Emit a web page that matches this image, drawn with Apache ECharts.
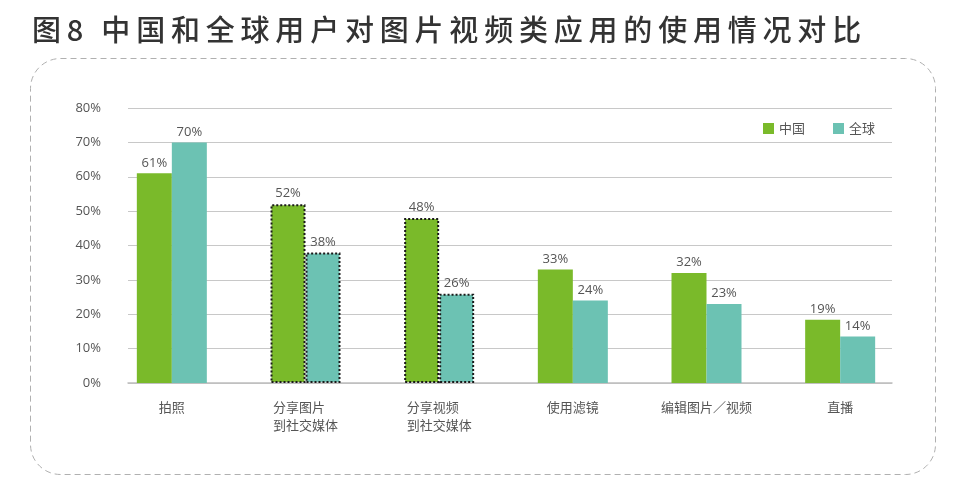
<!DOCTYPE html>
<html>
<head>
<meta charset="utf-8">
<script src="https://cdn.jsdelivr.net/npm/echarts@6/dist/echarts.min.js"></script>
<style>html,body{margin:0;padding:0;background:#fff;}#c{width:963px;height:502px;}</style>
</head>
<body>
<div id="c"></div>
<script>
var titleText = '图8 中国和全球用户对图片视频类应用的使用情况对比';
var categories = ['拍照', '分享图片\u3000\n到社交媒体', '分享视频\u3000\n到社交媒体', '使用滤镜', '编辑图片／视频', '直播'];
var chinaValues = [61, 52, 48, 33, 32, 18.4];
var globalValues = [70, 38, 26, 24, 23, 13.5];
var chinaLabels = ['61%', '52%', '48%', '33%', '32%', '19%'];
var globalLabels = ['70%', '38%', '26%', '24%', '23%', '14%'];
var dottedIdx = [1, 2];

var GREEN = '#7aba2a', TEAL = '#6cc2b3';
var chart = echarts.init(document.getElementById('c'));

var titleRich = titleText.split('').map(function (ch) { return '{c|' + ch + '}'; }).join('');

function mk(vals, color, labels) {
  return vals.map(function (v, i) {
    var it = { value: v, label: { formatter: labels[i] } };
    if (dottedIdx.indexOf(i) >= 0) {
      it.itemStyle = { color: color, borderColor: '#1a1a1a', borderWidth: 2, borderType: [2, 2] };
    }
    return it;
  });
}
var lbl = { show: true, position: 'top', distance: 4, color: '#555', fontSize: 13, fontFamily: 'Open Sans, Noto Sans CJK SC' };

chart.setOption({
  backgroundColor: '#fff',
  animation: false,
  title: {
    text: titleRich, left: 24, top: 10,
    textStyle: { fontSize: 29, fontWeight: 500, color: '#333', fontFamily: 'Noto Sans CJK SC',
      rich: { c: { fontSize: 29, fontWeight: 500, color: '#333', fontFamily: 'Noto Sans CJK SC', padding: [0, 2.9, 0, 2.9] } } }
  },
  graphic: [{
    type: 'rect', shape: { x: 30.5, y: 58.5, width: 905, height: 416, r: 30 },
    style: { fill: 'none', stroke: '#b0b0b0', lineWidth: 1, lineDash: [6, 4] }, z: -1
  }],
  legend: {
    right: 83, top: 117, itemWidth: 11, itemHeight: 11, itemGap: 28,
    icon: 'rect',
    textStyle: { color: '#555', fontSize: 13, fontFamily: 'Noto Sans CJK SC' },
    data: ['中国', '全球']
  },
  grid: [
    { left: 128, right: 71, top: 108, bottom: 119 },
    { left: 105, right: 56, top: 108, bottom: 119 }
  ],
  xAxis: [
    { gridIndex: 0, type: 'category', data: categories, axisLabel: { show: false }, axisTick: { show: false },
      axisLine: { lineStyle: { color: '#bdbdbd', width: 1.5 } } },
    { gridIndex: 1, type: 'category', data: categories, axisTick: { show: false }, axisLine: { show: false },
      axisLabel: { margin: 15, color: '#555', fontSize: 13, lineHeight: 18, fontFamily: 'Noto Sans CJK SC', interval: 0 } }
  ],
  yAxis: [
    { gridIndex: 0, type: 'value', min: 0, max: 80, interval: 10,
      axisLabel: { margin: 27, color: '#555', fontSize: 13, fontFamily: 'Open Sans', formatter: function (v) { return v + '%'; } },
      axisLine: { show: false }, axisTick: { show: false },
      splitLine: { lineStyle: { color: '#c8c8c8', width: 1 } } },
    { gridIndex: 1, type: 'value', min: 0, max: 80, interval: 10, show: false, splitLine: { show: false } }
  ],
  series: [
    { name: '中国', type: 'bar', xAxisIndex: 1, yAxisIndex: 1, barWidth: 35, barGap: '0%',
      itemStyle: { color: GREEN }, label: lbl, data: mk(chinaValues, GREEN, chinaLabels) },
    { name: '全球', type: 'bar', xAxisIndex: 1, yAxisIndex: 1, barWidth: 35, barGap: '0%',
      itemStyle: { color: TEAL }, label: lbl, data: mk(globalValues, TEAL, globalLabels) }
  ]
});
</script>
</body>
</html>
